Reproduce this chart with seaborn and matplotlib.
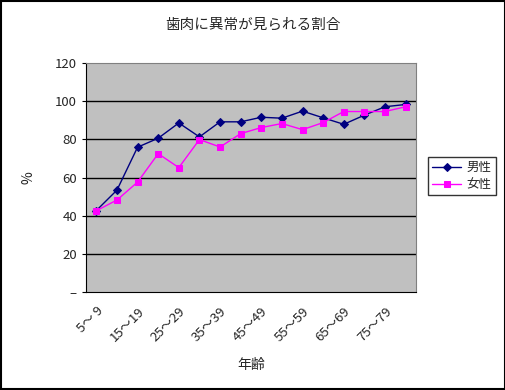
import pandas as pd
import matplotlib.pyplot as plt
import seaborn as sns
from matplotlib.patches import Rectangle
from matplotlib.transforms import ScaledTranslation

# age groups (16 of them) and rates in %
ages = ['5～ 9', '10～14', '15～19', '20～24', '25～29', '30～34', '35～39', '40～44',
        '45～49', '50～54', '55～59', '60～64', '65～69', '70～74', '75～79', '80～84']
male = [42.7, 53.4, 75.9, 80.6, 88.6, 81.3, 89.2, 89.2, 91.6, 91.1, 94.8, 91.3, 87.9, 92.7, 97.1, 98.3]
female = [42.6, 48.2, 57.6, 72.5, 65.2, 79.9, 76.0, 83.0, 86.2, 88.3, 85.1, 88.8, 94.6, 94.6, 94.6, 97.1]
yticks = [0, 20, 40, 60, 80, 100, 120]
ylabels = ['–', '20', '40', '60', '80', '100', '120']

sns.set_style('white')
plt.rcParams['font.family'] = ['Noto Sans CJK JP', 'DejaVu Sans']

df = pd.DataFrame({'pos': range(len(ages)), 'male': male, 'female': female})

fig = plt.figure(figsize=(5.06, 3.90), dpi=100)
ax = fig.add_axes([0.170, 0.2513, 0.652, 0.587])
ax.set_facecolor('#C0C0C0')

sns.lineplot(data=df, x='pos', y='male', ax=ax, color='#000080', marker='D',
             markersize=3.6, markeredgecolor='#000080', linewidth=1, label='男性')
sns.lineplot(data=df, x='pos', y='female', ax=ax, color='#FF00FF', marker='s',
             markersize=4.2, markeredgecolor='#FF00FF', linewidth=1, label='女性')

ax.set_xlim(-0.5, len(ages) - 0.5)
ax.set_ylim(0, 120)
ax.set_yticks(yticks)
ax.set_yticklabels(ylabels, fontsize=9.5)
for y in yticks[1:-1]:
    ax.axhline(y, color='black', linewidth=1, zorder=0.5)

ax.set_xticks(range(0, len(ages), 2))
ax.set_xticklabels(ages[::2], rotation=45, ha='right', rotation_mode='anchor', fontsize=9.5)
shift = ScaledTranslation(-6 / 100, 0, fig.dpi_scale_trans)
for lbl in ax.get_xticklabels():
    lbl.set_transform(lbl.get_transform() + shift)
ax.set_xticks([i + 0.5 for i in range(len(ages) - 1)], minor=True)
ax.tick_params(axis='x', which='major', length=0, pad=9)
ax.tick_params(axis='x', which='minor', direction='in', length=4, color='black')
ax.tick_params(axis='y', length=3, direction='out', color='black', left=True)

for s in ['top', 'right']:
    ax.spines[s].set_color('#808080')
for s in ['left', 'bottom']:
    ax.spines[s].set_color('black')

ax.set_xlabel('年齢', fontsize=10, labelpad=10)
ax.set_ylabel('%', fontsize=10, labelpad=14)
fig.suptitle('歯肉に異常が見られる割合', fontsize=10.5, y=0.955)

leg = ax.legend(loc='upper left', bbox_to_anchor=(0.846, 0.598), bbox_transform=fig.transFigure,
                fontsize=9, frameon=True, fancybox=False, handlelength=2.3,
                borderpad=0.35, labelspacing=0.3, handletextpad=0.4, borderaxespad=0)
leg.get_frame().set_edgecolor('black')
leg.get_frame().set_linewidth(1)

fig.patches.append(Rectangle((0.001, 0.002), 0.997, 0.996, transform=fig.transFigure,
                             fill=False, edgecolor='black', linewidth=1.5))

fig.savefig('out.png', dpi=100)
